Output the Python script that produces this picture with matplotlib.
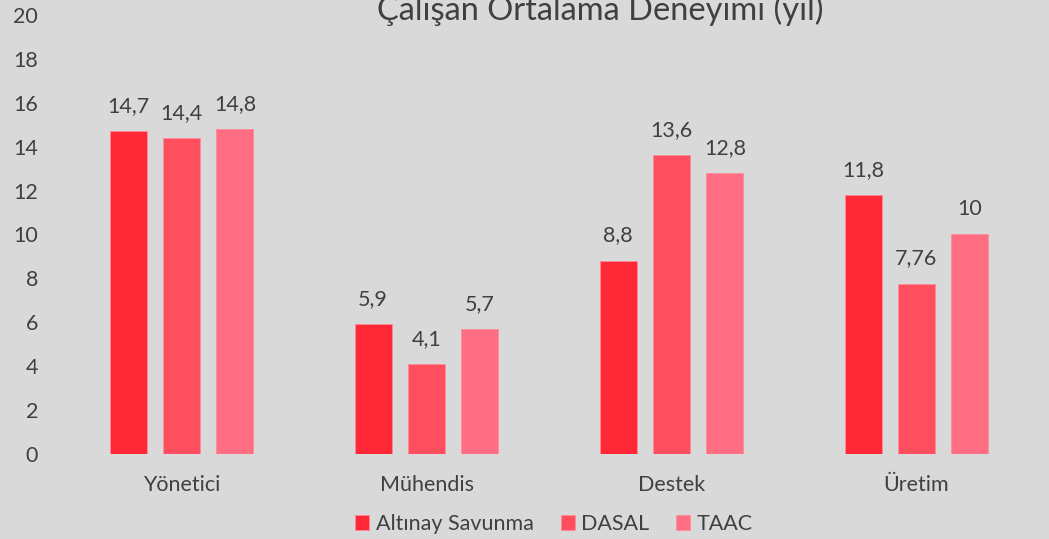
import numpy as np
import matplotlib.pyplot as plt

plt.rcParams['font.family'] = ['Lato', 'DejaVu Sans']

categories = ['Yönetici', 'Mühendis', 'Destek', 'Üretim']
series = ['Altınay Savunma', 'DASAL', 'TAAC']
altinay = [14.7, 5.9, 8.8, 11.8]
dasal = [14.4, 4.1, 13.6, 7.76]
taac = [14.8, 5.7, 12.8, 10]
colors = ['#FF2837', '#FF4F5E', '#FF6E82']

bg = '#D9D9D9'
txt = '#404040'
fs = 15.5

fig = plt.figure(figsize=(10.49, 5.39), dpi=100, facecolor=bg)
ax = fig.add_axes([59 / 1049, 85 / 539, 980 / 1049, 439 / 539])
ax.set_facecolor(bg)

x = np.arange(len(categories))
width = 0.151
step = 0.218
for i, (name, vals) in enumerate(zip(series, [altinay, dasal, taac])):
    pos = x + (i - 1) * step
    bars = ax.bar(pos, vals, width, color=colors[i], label=name,
                  edgecolor='#FF8A98', linewidth=0.6)
    for b, v in zip(bars, vals):
        s = ('%g' % v).replace('.', ',')
        ax.annotate(s, (b.get_x() + b.get_width() / 2, v), xytext=(0, 11),
                    textcoords='offset points', ha='center', va='bottom',
                    fontsize=fs, color=txt)

ax.set_xlim(-0.5, len(categories) - 0.5)
ax.set_ylim(0, 20)
ax.set_yticks(range(0, 21, 2))
ax.set_xticks(x)
ax.set_xticklabels(categories)
ax.tick_params(axis='both', length=0, labelsize=fs, colors=txt)
ax.tick_params(axis='x', pad=15)
ax.tick_params(axis='y', pad=15)
for sp in ax.spines.values():
    sp.set_visible(False)

# title is partly cut off at the top, as in the original
fig.text(600 / 1049, 1 - 20 / 539, 'Çalışan Ortalama Deneyimi (yıl)', ha='center',
         va='baseline', fontsize=23.5, color=txt)

leg = fig.legend(loc='center', bbox_to_anchor=(554 / 1049, 1 - 524 / 539),
                 ncol=3, frameon=False, fontsize=fs, handlelength=0.65,
                 handleheight=0.65, handletextpad=0.3, columnspacing=1.25,
                 labelcolor=txt)

fig.savefig('out.png', dpi=100, facecolor=bg)
